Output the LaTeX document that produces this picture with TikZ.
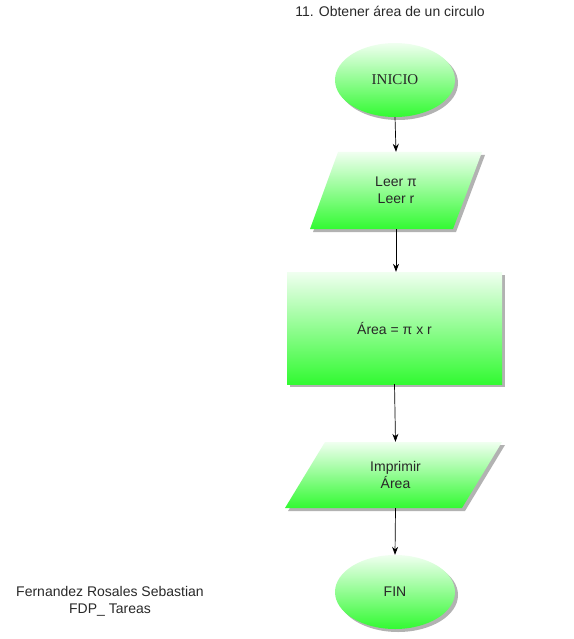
\documentclass[tikz,border=0pt]{standalone}
\usepackage{fontspec}
\setmainfont{Liberation Sans}
\newfontfamily\serifft{Liberation Serif}
\usetikzlibrary{shapes.geometric,arrows.meta,shadows}
\definecolor{gtop}{RGB}{240,255,240}
\definecolor{gbot}{RGB}{50,250,50}
\definecolor{txt}{RGB}{40,40,40}
\begin{document}
\begin{tikzpicture}[x=1pt,y=1pt,
  shapefill/.style={top color=gtop, bottom color=gbot, draw=none,
    drop shadow={shadow xshift=3pt, shadow yshift=-3pt, fill=black!30, opacity=1}},
  term/.style={ellipse, shapefill, minimum width=120pt, minimum height=74pt, inner sep=0pt,
    font=\fontsize{14}{16}\selectfont, text=txt},
  lbl/.style={inner sep=0pt, align=center, font=\fontsize{14}{17}\selectfont, text=txt},
  arr/.style={-{Stealth[length=8pt,width=6pt]}, line width=0.7pt, black}
]
\useasboundingbox (0,0) rectangle (573,-639);

% title
\node[lbl] (title) at (390,-11) {11. Obtener área de un circulo};

% INICIO
\node[term] (inicio) at (395,-80) {\serifft\fontsize{15}{17}\selectfont INICIO};

% Leer parallelogram
\path[shapefill] (310,-229) -- (453,-229) -- (482,-152) -- (338,-152) -- cycle;
\node[lbl, minimum width=144pt, minimum height=77pt] (leer) at (396,-190.5) {Leer π\\Leer r};

% process rectangle
\node[rectangle, shapefill, minimum width=215pt, minimum height=112pt, inner sep=0pt,
  font=\fontsize{14}{16}\selectfont, text=txt] (proc) at (394.5,-328) {Área = π x r};

% Imprimir parallelogram
\path[shapefill] (285,-508) -- (462,-508) -- (502,-442) -- (325,-442) -- cycle;
\node[lbl, minimum width=177pt, minimum height=66pt] (imp) at (395.5,-475) {Imprimir\\Área};

% FIN
\node[term] (fin) at (395,-592) {FIN};

% author
\node[lbl] (author) at (110,-601) {Fernandez Rosales Sebastian\\FDP\_ Tareas};

% connectors
\draw[arr] (inicio.south) -- (leer.north);
\draw[arr] (leer.south) -- (proc.north -| leer.south);
\draw[arr] (proc.south) -- (imp.north);
\draw[arr] (imp.south) -- (fin.north);
\end{tikzpicture}
\end{document}
